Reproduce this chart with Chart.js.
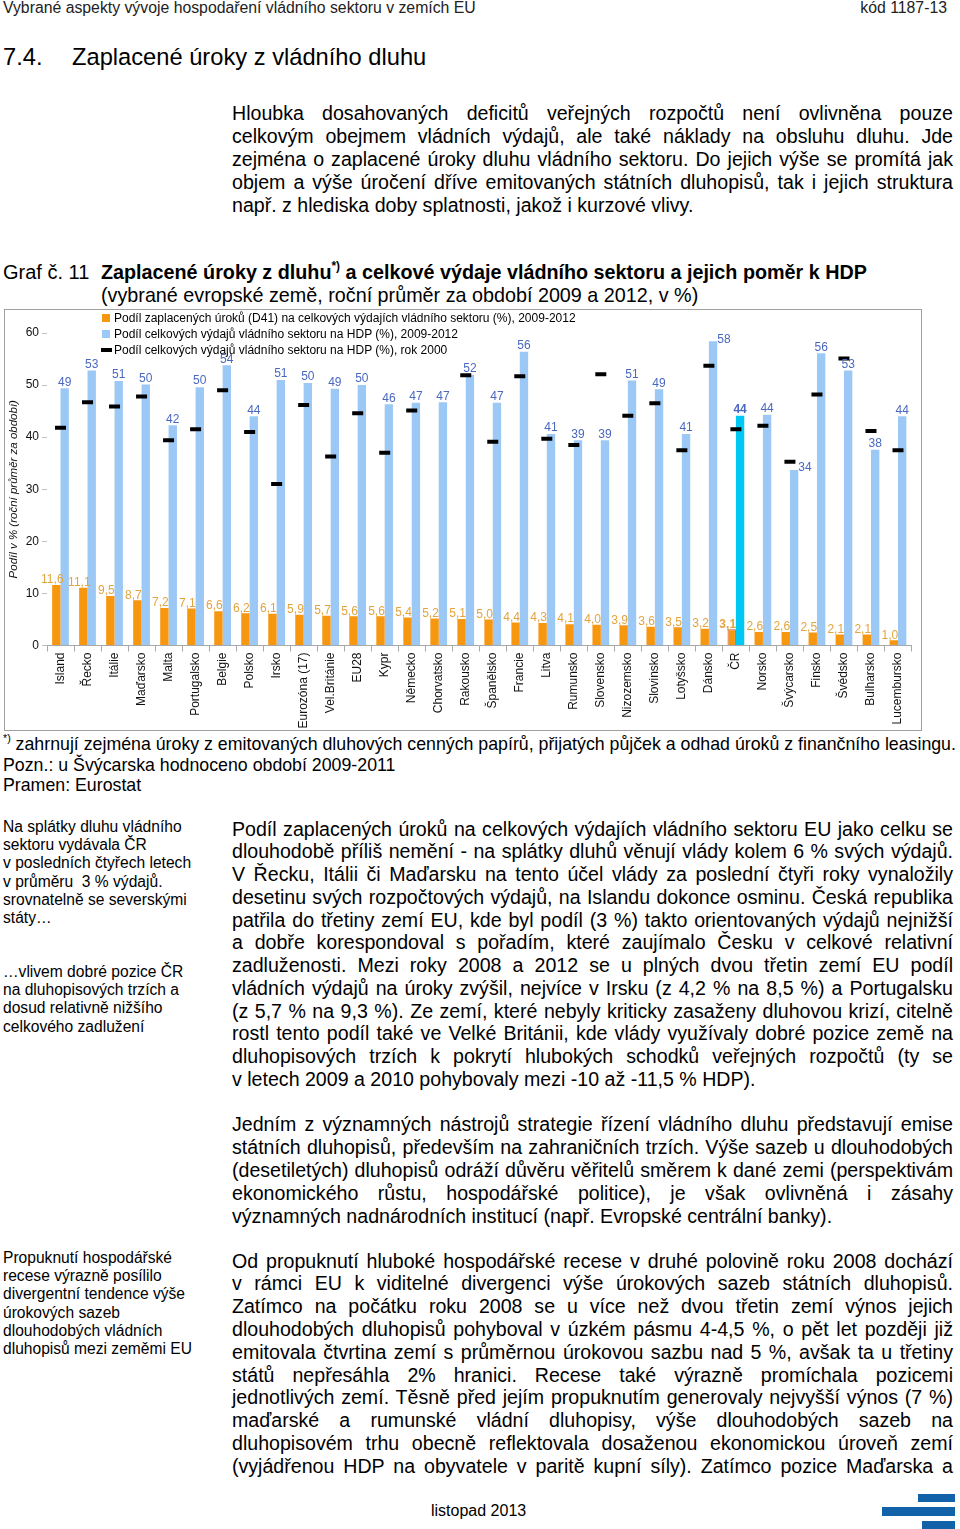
<!DOCTYPE html>
<html lang="cs"><head><meta charset="utf-8">
<script src="https://cdn.jsdelivr.net/npm/chart.js@4/dist/chart.umd.min.js"></script>
<style>
html,body{margin:0;padding:0;background:#fff;}
body{width:960px;height:1529px;position:relative;overflow:hidden;font-family:"Liberation Sans",Arial,Helvetica,sans-serif;color:#000;}
.abs{position:absolute;white-space:nowrap;}
.p{position:absolute;left:232px;width:721px;font-size:19.6px;line-height:22.8px;}
.p div{text-align:justify;text-align-last:justify;white-space:nowrap;}
.p div.l{text-align-last:left;}
.side{position:absolute;left:3px;font-size:15.6px;line-height:18.2px;white-space:nowrap;}
#box{position:absolute;left:4px;top:309px;width:916px;height:420px;border:1px solid #a0a0a0;}
#box canvas{display:block;}
.leg{position:absolute;left:101px;top:310px;font-size:12px;line-height:16px;white-space:nowrap;}
.leg div{position:relative;padding-left:13px;height:16px;}
.leg .sw{position:absolute;left:1px;top:4px;width:8px;height:8px;}
.leg .mk{position:absolute;left:0;top:6px;width:11px;height:4px;background:#000;}
sup{font-size:0.6em;line-height:0;vertical-align:0.75em;}
</style></head>
<body>
<div class="abs" style="left:3px;top:0;font-size:15.8px;line-height:16px;color:#222;">Vybrané aspekty vývoje hospodaření vládního sektoru v zemích EU</div>
<div class="abs" style="right:13px;top:0;font-size:15.8px;line-height:16px;color:#222;">kód 1187-13</div>
<div class="abs" style="left:3px;top:43px;font-size:23.7px;line-height:28px;">7.4.</div>
<div class="abs" style="left:72px;top:43px;font-size:23.7px;line-height:28px;">Zaplacené úroky z vládního dluhu</div>

<div class="p" style="top:101.5px;line-height:23px;">
<div>Hloubka dosahovaných deficitů veřejných rozpočtů není ovlivněna pouze</div>
<div>celkovým obejmem vládních výdajů, ale také náklady na obsluhu dluhu. Jde</div>
<div>zejména o zaplacené úroky dluhu vládního sektoru. Do jejich výše se promítá jak</div>
<div>objem a výše úročení dříve emitovaných státních dluhopisů, tak i jejich struktura</div>
<div class="l">např. z hlediska doby splatnosti, jakož i kurzové vlivy.</div>
</div>

<div class="abs" style="left:3px;top:260.5px;font-size:20px;line-height:23px;">Graf č. 11</div>
<div class="abs" style="left:101px;top:260.5px;font-size:19.75px;line-height:23px;"><b>Zaplacené úroky z dluhu<sup>*)</sup> a celkové výdaje vládního sektoru a jejich poměr k HDP</b><br>(vybrané evropské země, roční průměr za období 2009 a 2012, v %)</div>

<div id="box"><canvas id="c" width="916" height="420"></canvas></div>
<div class="leg">
<div><span class="sw" style="background:#F7960F"></span>Podíl zaplacených úroků (D41) na celkových výdajích vládního sektoru (%), 2009-2012</div>
<div><span class="sw" style="background:#9CC8F5"></span>Podíl celkových výdajů vládního sektoru na HDP (%), 2009-2012</div>
<div><span class="mk"></span>Podíl celkových výdajů vládního sektoru na HDP (%), rok 2000</div>
</div>

<div class="abs" style="left:3px;top:734px;font-size:17.75px;line-height:20.5px;"><sup>*)</sup> zahrnují zejména úroky z emitovaných dluhových cenných papírů, přijatých půjček a odhad úroků z finančního leasingu.<br>Pozn.: u Švýcarska hodnoceno období 2009-2011<br>Pramen: Eurostat</div>

<div class="side" style="top:818px;">Na splátky dluhu vládního<br>sektoru vydávala ČR<br>v posledních čtyřech letech<br>v průměru&nbsp; 3 % výdajů.<br>srovnatelně se severskými<br>státy…</div>
<div class="side" style="top:963px;">…vlivem dobré pozice ČR<br>na dluhopisových trzích a<br>dosud relativně nižšího<br>celkového zadlužení</div>

<div class="p" style="top:817.5px;line-height:22.75px;">
<div>Podíl zaplacených úroků na celkových výdajích vládního sektoru EU jako celku se</div>
<div>dlouhodobě příliš nemění - na splátky dluhů věnují vlády kolem 6 % svých výdajů.</div>
<div>V Řecku, Itálii či Maďarsku na tento účel vlády za poslední čtyři roky vynaložily</div>
<div>desetinu svých rozpočtových výdajů, na Islandu dokonce osminu. Česká republika</div>
<div>patřila do třetiny zemí EU, kde byl podíl (3 %) takto orientovaných výdajů nejnižší</div>
<div>a dobře korespondoval s pořadím, které zaujímalo Česku v celkové relativní</div>
<div>zadluženosti. Mezi roky 2008 a 2012 se u plných dvou třetin zemí EU podíl</div>
<div>vládních výdajů na úroky zvýšil, nejvíce v Irsku (z 4,2 % na 8,5 %) a Portugalsku</div>
<div>(z 5,7 % na 9,3 %). Ze zemí, které nebyly kriticky zasaženy dluhovou krizí, citelně</div>
<div>rostl tento podíl také ve Velké Británii, kde vlády využívaly dobré pozice země na</div>
<div>dluhopisových trzích k pokrytí hlubokých schodků veřejných rozpočtů (ty se</div>
<div class="l">v letech 2009 a 2010 pohybovaly mezi -10 až -11,5 % HDP).</div>
</div>

<div class="p" style="top:1112.5px;line-height:23px;">
<div>Jedním z významných nástrojů strategie řízení vládního dluhu představují emise</div>
<div>státních dluhopisů, především na zahraničních trzích. Výše sazeb u dlouhodobých</div>
<div>(desetiletých) dluhopisů odráží důvěru věřitelů směrem k dané zemi (perspektivám</div>
<div>ekonomického růstu, hospodářské politice), je však ovlivněná i zásahy</div>
<div class="l">významných nadnárodních institucí (např. Evropské centrální banky).</div>
</div>

<div class="side" style="top:1249px;">Propuknutí hospodářské<br>recese výrazně posílilo<br>divergentní tendence výše<br>úrokových sazeb<br>dlouhodobých vládních<br>dluhopisů mezi zeměmi EU</div>

<div class="p" style="top:1249.6px;line-height:22.8px;">
<div>Od propuknutí hluboké hospodářské recese v druhé polovině roku 2008 dochází</div>
<div>v rámci EU k viditelné divergenci výše úrokových sazeb státních dluhopisů.</div>
<div>Zatímco na počátku roku 2008 se u více než dvou třetin zemí výnos jejich</div>
<div>dlouhodobých dluhopisů pohyboval v úzkém pásmu 4-4,5 %, o pět let později již</div>
<div>emitovala čtvrtina zemí s průměrnou úrokovou sazbu nad 5 %, avšak ta u třetiny</div>
<div>států nepřesáhla 2% hranici. Recese také výrazně promíchala pozicemi</div>
<div>jednotlivých zemí. Těsně před jejím propuknutím generovaly nejvyšší výnos (7 %)</div>
<div>maďarské a rumunské vládní dluhopisy, výše dlouhodobých sazeb na</div>
<div>dluhopisovém trhu obecně reflektovala dosaženou ekonomickou úroveň zemí</div>
<div>(vyjádřenou HDP na obyvatele v paritě kupní síly). Zatímco pozice Maďarska a</div>
</div>

<div class="abs" style="left:431px;top:1502px;font-size:16px;line-height:18px;">listopad 2013</div>
<div class="abs" style="left:918px;top:1494px;width:37px;height:8px;background:#1262AA;"></div>
<div class="abs" style="left:882px;top:1507px;width:73px;height:9px;background:#1262AA;"></div>
<div class="abs" style="left:922px;top:1521px;width:33px;height:8px;background:#1262AA;"></div>

<script>
const categories = ["Island","Řecko","Itálie","Maďarsko","Malta","Portugalsko","Belgie","Polsko","Irsko","Eurozóna (17)","Vel.Británie","EU28","Kypr","Německo","Chorvatsko","Rakousko","Španělsko","Francie","Litva","Rumunsko","Slovensko","Nizozemsko","Slovinsko","Lotyšsko","Dánsko","ČR","Norsko","Švýcarsko","Finsko","Švédsko","Bulharsko","Lucembursko"];
const interestShare = [11.6,11.1,9.5,8.7,7.2,7.1,6.6,6.2,6.1,5.9,5.7,5.6,5.6,5.4,5.2,5.1,5.0,4.4,4.3,4.1,4.0,3.9,3.6,3.5,3.2,3.1,2.6,2.6,2.5,2.1,2.1,1.0];
const spending0912 = [49.4,52.8,50.8,50.1,42.3,49.6,53.8,44.0,51.0,50.4,49.3,50.0,46.3,46.6,46.7,52.0,46.6,56.4,40.6,39.4,39.4,50.9,49.2,40.6,58.4,44.1,44.3,33.7,56.1,52.8,37.6,44.0];
const spending2000 = [41.8,46.7,45.9,47.8,39.4,41.5,49.0,41.0,31.0,46.2,36.3,44.6,37.0,45.1,null,51.9,39.1,51.7,39.7,38.5,52.1,44.1,46.5,37.5,53.7,41.5,42.2,35.3,48.2,55.1,41.2,37.5];
const yTicks = [0,10,20,30,40,50,60];
const highlight = "ČR";
const sideLabels = ["Dánsko","Švýcarsko"];

const FONT = '"Liberation Sans", Arial, sans-serif';
const fmt = v => v.toFixed(1).replace('.', ',');

const labelPlugin = {
  id: 'valueLabels',
  afterDatasetsDraw(chart) {
    const ctx = chart.ctx;
    ctx.save();
    const mO = chart.getDatasetMeta(1);
    const mB = chart.getDatasetMeta(2);
    mO.data.forEach((el, i) => {
      const bold = categories[i] === highlight;
      ctx.font = (bold ? 'bold ' : '') + '12px ' + FONT;
      ctx.fillStyle = '#E3A43E';
      ctx.textAlign = 'center';
      ctx.textBaseline = 'bottom';
      ctx.fillText(fmt(interestShare[i]), el.x - 4, el.y + 1);
    });
    mB.data.forEach((el, i) => {
      const bold = categories[i] === highlight;
      ctx.font = (bold ? 'bold ' : '') + '12px ' + FONT;
      ctx.fillStyle = '#4A68C0';
      const txt = String(Math.round(spending0912[i]));
      if (sideLabels.includes(categories[i])) {
        ctx.textAlign = 'left';
        ctx.textBaseline = 'middle';
        ctx.fillText(txt, el.x + el.width / 2, el.y - 2);
      } else {
        ctx.textAlign = 'center';
        ctx.textBaseline = 'bottom';
        ctx.fillText(txt, el.x, el.y);
      }
    });
    ctx.restore();
  }
};

new Chart(document.getElementById('c'), {
  type: 'bar',
  data: {
    labels: categories,
    datasets: [
      {
        type: 'line',
        label: 'Podíl celkových výdajů vládního sektoru na HDP (%), rok 2000',
        data: spending2000,
        showLine: false,
        pointStyle: 'line',
        pointRadius: 5.5,
        pointHoverRadius: 5.5,
        pointBorderWidth: 4,
        pointHoverBorderWidth: 4,
        borderColor: '#000',
        backgroundColor: '#000',
        order: 0
      },
      {
        label: 'Podíl zaplacených úroků (D41) na celkových výdajích vládního sektoru (%), 2009-2012',
        data: interestShare,
        backgroundColor: '#F7960F',
        borderColor: categories.map(c => c === highlight ? '#C0504D' : '#F7960F'),
        borderWidth: categories.map(c => c === highlight ? 1 : 0),
        categoryPercentage: 0.62,
        barPercentage: 1.0,
        order: 1
      },
      {
        label: 'Podíl celkových výdajů vládního sektoru na HDP (%), 2009-2012',
        data: spending0912,
        backgroundColor: categories.map(c => c === highlight ? '#00C8F5' : '#9CC8F5'),
        borderWidth: 0,
        categoryPercentage: 0.62,
        barPercentage: 1.0,
        order: 2
      }
    ]
  },
  options: {
    responsive: false,
    animation: false,
    devicePixelRatio: 1,
    layout: { padding: { top: 23, right: 6, left: 0, bottom: 0 } },
    plugins: { legend: { display: false }, tooltip: { enabled: false } },
    scales: {
      x: {
        offset: true,
        grid: { display: true, drawOnChartArea: false, offset: true, tickLength: 6, color: '#a8a8a8' },
        border: { display: true, color: '#a8a8a8' },
        ticks: { autoSkip: false, minRotation: 90, maxRotation: 90, padding: 1, color: '#111', font: { family: FONT, size: 12 } },
        afterFit(s) { s.height = 84.5; }
      },
      y: {
        min: 0, max: 60,
        afterBuildTicks(s) { s.ticks = yTicks.map(v => ({ value: v })); },
        grid: { display: true, drawOnChartArea: false, tickLength: 5, color: '#c0c0c0' },
        border: { display: false },
        ticks: { padding: 3, color: '#111', font: { family: FONT, size: 12 } },
        title: { display: true, text: 'Podíl v % (roční průměr za období)', color: '#111', padding: { top: 2, bottom: 0 }, font: { family: FONT, size: 11.5, style: 'italic' } },
        afterFit(s) { s.width = 42; }
      }
    }
  },
  plugins: [labelPlugin]
});
</script>
</body></html>
